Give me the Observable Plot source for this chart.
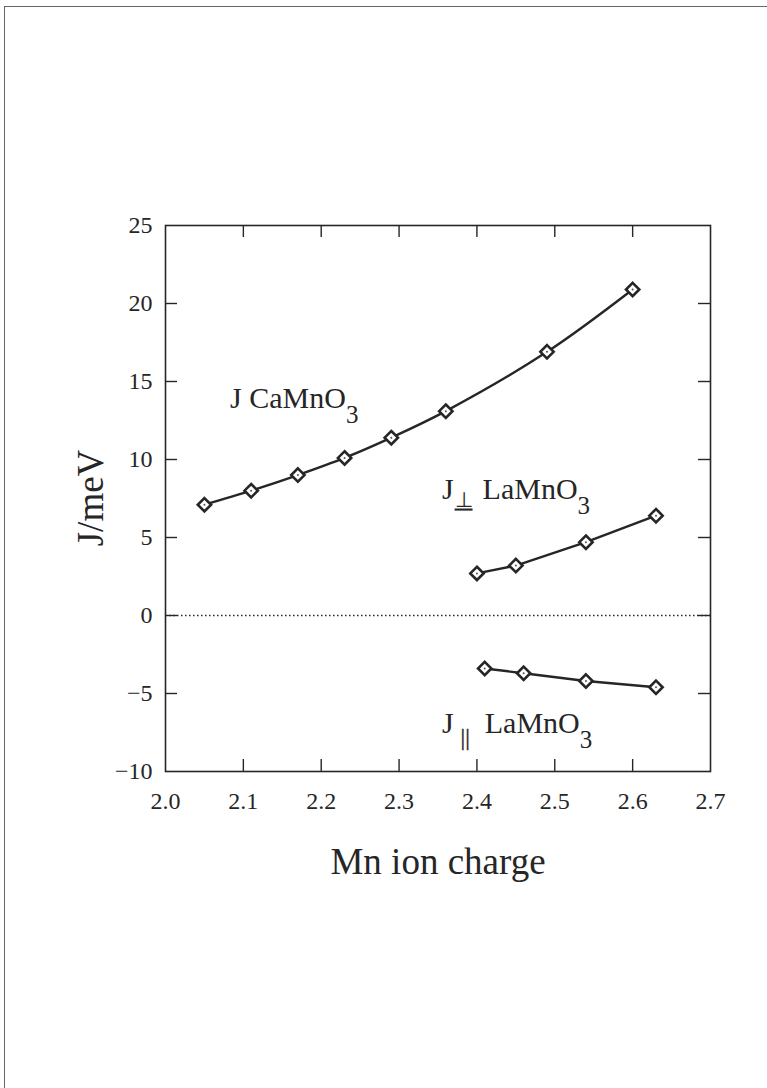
<!DOCTYPE html>
<html><head><meta charset="utf-8">
<script src="https://cdn.jsdelivr.net/npm/d3@7"></script>
<script src="https://cdn.jsdelivr.net/npm/@observablehq/plot@0.6"></script>
<style>
body{margin:0;background:#fff;}
#wrap{position:relative;width:767px;height:1088px;overflow:hidden;}
#border{position:absolute;left:4px;top:6px;right:-10px;bottom:-10px;border-top:1.5px solid #666;border-left:1.5px solid #666;pointer-events:none;}
#chart{position:absolute;left:0;top:0;}
svg text{font-family:'Liberation Serif','Times New Roman',serif;}
</style></head><body><div id="wrap"><div id="chart"></div><div id="border"></div></div>
<script>
// J CaMnO3
const caX = [2.05, 2.11, 2.17, 2.23, 2.29, 2.36, 2.49, 2.60];
const caJ = [7.1, 8.0, 9.0, 10.1, 11.4, 13.1, 16.9, 20.9];
// J_perp LaMnO3
const perpX = [2.40, 2.45, 2.54, 2.63];
const perpJ = [2.7, 3.2, 4.7, 6.4];
// J_par LaMnO3
const parX = [2.41, 2.46, 2.54, 2.63];
const parJ = [-3.4, -3.7, -4.2, -4.6];

const xTicks = [2.0, 2.1, 2.2, 2.3, 2.4, 2.5, 2.6, 2.7];
const yTicks = [-10, -5, 0, 5, 10, 15, 20, 25];

const labelText = ["J CaMnO3", "J⊥ LaMnO3", "J|| LaMnO3"];
const labelX = [2.083, 2.355, 2.355];
const labelY = [13.3, 7.5, -7.55];

const xTitle = "Mn ion charge";
const yTitle = "J/meV";

const W = 767, H = 1088;
const mL = 165, mR = 57, mT = 225, mB = 317;
const fw = W - mL - mR, fh = H - mT - mB;
const tick = 12;
const serif = "'Liberation Serif','Times New Roman',serif";

const series = [
  caX.map((x, i) => ({x, y: caJ[i]})),
  perpX.map((x, i) => ({x, y: perpJ[i]})),
  parX.map((x, i) => ({x, y: parJ[i]}))
];
const allPts = series.flat();
const labels = labelText.map((t, i) => ({t, x: labelX[i], y: labelY[i]}));
const ink = "#262626";

const chart = Plot.plot({
  width: W, height: H,
  marginLeft: mL, marginRight: mR, marginTop: mT, marginBottom: mB,
  style: {fontFamily: serif, fontSize: "24px", background: "transparent", color: ink},
  x: {domain: [2.0, 2.7]},
  y: {domain: [-10, 25]},
  marks: [
    Plot.ruleY([0], {stroke: ink, strokeWidth: 1.3, strokeDasharray: "1.5,2.5"}),
    Plot.frame({stroke: ink, strokeWidth: 1.6}),
    Plot.tickX(xTicks.slice(1, -1), {x: d => d, insetTop: fh - tick, stroke: ink, strokeWidth: 1.4}),
    Plot.tickX(xTicks.slice(1, -1), {x: d => d, insetBottom: fh - tick, stroke: ink, strokeWidth: 1.4}),
    Plot.tickY(yTicks.slice(1, -1), {y: d => d, insetRight: fw - tick, stroke: ink, strokeWidth: 1.4}),
    Plot.tickY(yTicks.slice(1, -1), {y: d => d, insetLeft: fw - tick, stroke: ink, strokeWidth: 1.4}),
    Plot.axisX({ticks: xTicks, tickSize: 0, tickPadding: 20, tickFormat: d3.format(".1f"), label: null, fontSize: 24, fontFamily: serif, fill: ink}),
    Plot.axisY({ticks: yTicks, tickSize: 0, tickPadding: 13, label: null, fontSize: 24, fontFamily: serif, fill: ink}),
    ...series.map((s, i) => Plot.line(s, {x: "x", y: "y", stroke: ink, strokeWidth: 2.4, curve: i === 0 ? "catmull-rom" : "linear"})),
    Plot.dot(allPts, {x: "x", y: "y", symbol: "diamond2", r: 6, fill: "white", stroke: ink, strokeWidth: 2.6}),
    Plot.dot(allPts, {x: "x", y: "y", r: 1, fill: "#555"}),
    Plot.text(labels, {x: "x", y: "y", text: "t", textAnchor: "start", lineAnchor: "bottom", fontSize: 30, fontFamily: serif, fill: ink}),
    Plot.text([xTitle], {text: d => d, frameAnchor: "bottom", lineAnchor: "bottom", dy: 102, fontSize: 37, fontFamily: serif, fill: ink})
  ]
});
document.getElementById("chart").appendChild(chart);

// y title
d3.select(chart).append("text")
  .attr("transform", `translate(${mL - 62},${mT + fh / 2}) rotate(-90)`)
  .attr("text-anchor", "middle")
  .attr("font-family", serif).attr("font-size", 37).attr("fill", ink)
  .text(yTitle);

// subscripts for annotation labels
d3.select(chart).selectAll("text").each(function() {
  const t = this.textContent;
  const el = d3.select(this);
  const sub = (dy, size, txt, dx) => el.append("tspan").attr("dy", dy).attr("dx", dx || 0).attr("font-size", size).attr("fill", ink).text(txt);
  if (t === labelText[0]) {
    el.text(null);
    sub(0, 30, "J CaMnO");
    sub(15, 25, "3");
  } else if (t === labelText[1]) {
    el.text(null);
    sub(0, 30, "J");
    sub(8, 21, "⊥", 1).style("text-decoration", "underline");
    sub(-8, 30, "LaMnO", 10);
    sub(15, 25, "3");
  } else if (t === labelText[2]) {
    el.text(null);
    sub(0, 30, "J");
    sub(12, 23, "||", 7).attr("stroke", ink).attr("stroke-width", 0.4);
    sub(-12, 30, "LaMnO", 15);
    sub(15, 25, "3");
  }
});
</script>
</body></html>
